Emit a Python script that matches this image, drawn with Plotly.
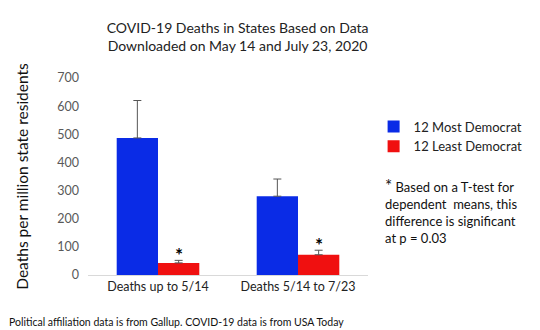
import plotly.graph_objects as go

categories = ["Deaths up to 5/14", "Deaths 5/14 to 7/23"]
most_dem = [487, 280]
most_dem_err = [133, 61]
least_dem = [43, 72]
least_dem_err = [9, 16]
series_names = ["12 Most Democrat", "12 Least Democrat"]
y_ticks = [0, 100, 200, 300, 400, 500, 600, 700]

FONT = "Lato, Carlito, Calibri, sans-serif"

fig = go.Figure()
fig.add_trace(go.Bar(
    x=categories, y=most_dem, name=series_names[0],
    marker=dict(color="#0A2BE6", line=dict(width=0)),
    error_y=dict(type="data", array=most_dem_err, arrayminus=[0, 0], symmetric=False,
                 color="#555555", thickness=1, width=4),
))
fig.add_trace(go.Bar(
    x=categories, y=least_dem, name=series_names[1],
    marker=dict(color="#F01010", line=dict(width=0)),
    error_y=dict(type="data", array=least_dem_err, arrayminus=[0, 0], symmetric=False,
                 color="#555555", thickness=1, width=4),
))

annotations = []
for i, c in enumerate(categories):
    annotations.append(dict(
        x=c, y=least_dem[i] + least_dem_err[i], xref="x", yref="y",
        text="<b>*</b>", showarrow=False, xshift=21, yshift=-8, yanchor="bottom",
        font=dict(size=19, color="black", family=FONT),
    ))

fig.update_layout(
    width=540, height=330,
    margin=dict(l=88, r=164, t=78, b=55),
    paper_bgcolor="white", plot_bgcolor="white",
    font=dict(family=FONT, color="#595959", size=12),
    title=dict(
        text="COVID-19 Deaths in States Based on Data<br>Downloaded on May 14 and July 23, 2020",
        x=0.44, xanchor="center", y=0.90, yanchor="top",
        font=dict(size=14, color="#222222", family=FONT),
    ),
    barmode="group", bargap=0.41, bargroupgap=0,
    xaxis=dict(showline=True, linecolor="#D9D9D9", linewidth=1, ticks="",
               tickfont=dict(size=12.5, color="#222222")),
    yaxis=dict(range=[0, 700], tickvals=y_ticks, showgrid=False, zeroline=False,
               showline=False, ticks="", ticklen=0, ticklabelstandoff=8,
               tickfont=dict(size=12.5, color="#595959"),
               title=dict(text="Deaths per million state residents",
                          font=dict(size=15.5, color="#111111"), standoff=24)),
    legend=dict(x=1.02, y=0.83, xanchor="left", yanchor="top",
                font=dict(size=13, color="#222222"), itemwidth=30,
                tracegroupgap=2, bgcolor="rgba(0,0,0,0)"),
    annotations=annotations + [
        dict(xref="paper", yref="paper", x=1.055, y=0.52, xanchor="left", yanchor="top",
             align="left", showarrow=False,
             text="<span style='font-size:17px'>*</span> Based on a T-test for<br>dependent  means, this<br>difference is significant<br>at p = 0.03",
             font=dict(size=13, color="#111111", family=FONT)),
        dict(xref="paper", yref="paper", x=-0.288, y=-0.2, xanchor="left", yanchor="top",
             align="left", showarrow=False,
             text="Political affiliation data is from Gallup. COVID-19 data is from USA Today",
             font=dict(size=10.5, color="#111111", family=FONT)),
    ],
)

fig.write_html("out.html")
